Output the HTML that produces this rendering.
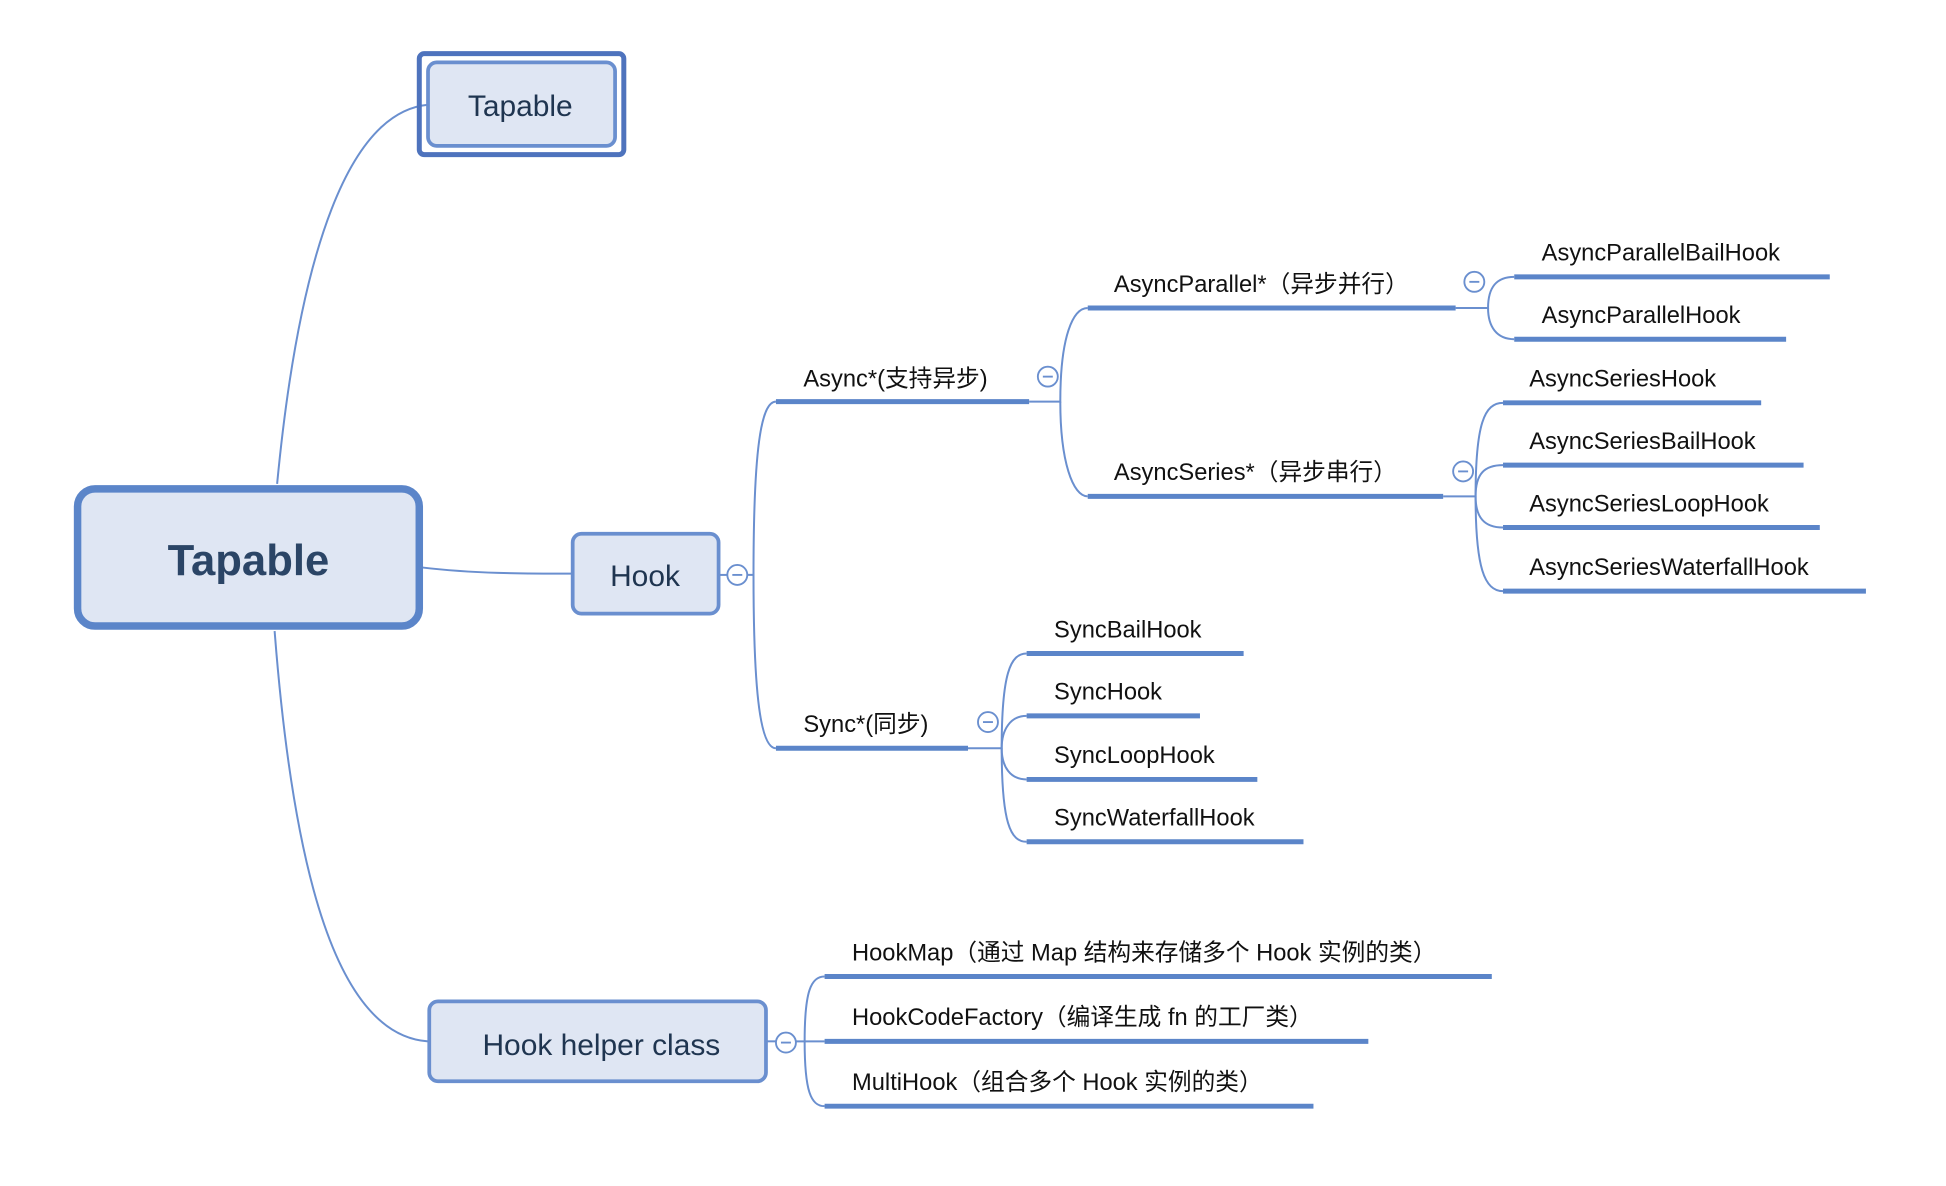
<!DOCTYPE html>
<html><head><meta charset="utf-8"><style>
html,body{margin:0;padding:0;background:#fff;}
svg{display:block;}
text{font-family:"Liberation Sans","Noto Sans CJK SC",sans-serif;fill:#111;}
</style></head><body>
<svg width="1946" height="1186" viewBox="0 0 1560 951" xmlns="http://www.w3.org/2000/svg">
<g fill="none" stroke="#6a8fcf" stroke-width="1.6">
  <path d="M222,388 C240,200 280,90 343,84"/>
  <path d="M220,506 C235,700 270,830 343,835"/>
  <path d="M338,455 C380,460 420,460 458,460"/>
  <path d="M577,461 L583,461"/>
  <path d="M599,461 L604,461 C604,360 610,322 622,322"/>
  <path d="M604,461 C604,560 610,600 622,600"/>
  <path d="M825,322 L850,322 C850,270 860,247 872,247"/>
  <path d="M850,322 C850,370 860,398 872,398"/>
  <path d="M1167,247 L1193,247 C1193,230 1200,222 1214,222"/>
  <path d="M1193,247 C1193,262 1200,272 1214,272"/>
  <path d="M1157,398 L1183,398 C1183,340 1190,323 1205,323"/>
  <path d="M1183,398 C1183,380 1190,373 1205,373"/>
  <path d="M1183,398 C1183,415 1190,423 1205,423"/>
  <path d="M1183,398 C1183,455 1190,474 1205,474"/>
  <path d="M776,600 L803,600 C803,540 810,524 823,524"/>
  <path d="M803,600 C803,585 810,574 823,574"/>
  <path d="M803,600 C803,615 810,625 823,625"/>
  <path d="M803,600 C803,660 810,675 823,675"/>
  <path d="M615,835 L622,835"/>
  <path d="M638,835 L645,835 C645,795 650,783 661,783"/>
  <path d="M645,835 L661,835"/>
  <path d="M645,835 C645,875 650,887 661,887"/>
</g>
<g fill="#fff" stroke="#6a8fcf" stroke-width="1.5">
  <circle cx="591" cy="461" r="8"/><circle cx="840" cy="302" r="8"/>
  <circle cx="1182" cy="226" r="8"/><circle cx="1173" cy="378" r="8"/>
  <circle cx="792" cy="579" r="8"/><circle cx="630" cy="836" r="8"/>
</g>
<g stroke="#6a8fcf" stroke-width="1.5">
  <line x1="587" y1="461" x2="595" y2="461"/><line x1="836" y1="302" x2="844" y2="302"/>
  <line x1="1178" y1="226" x2="1186" y2="226"/><line x1="1169" y1="378" x2="1177" y2="378"/>
  <line x1="788" y1="579" x2="796" y2="579"/><line x1="626" y1="836" x2="634" y2="836"/>
</g>
<g stroke="#5b85c9" stroke-width="4">
  <line x1="622" y1="322" x2="825" y2="322"/><line x1="622" y1="600" x2="776" y2="600"/>
  <line x1="872" y1="247" x2="1167" y2="247"/><line x1="872" y1="398" x2="1157" y2="398"/>
  <line x1="1214" y1="222" x2="1467" y2="222"/><line x1="1214" y1="272" x2="1432" y2="272"/>
  <line x1="1205" y1="323" x2="1412" y2="323"/><line x1="1205" y1="373" x2="1446" y2="373"/>
  <line x1="1205" y1="423" x2="1459" y2="423"/><line x1="1205" y1="474" x2="1496" y2="474"/>
  <line x1="823" y1="524" x2="997" y2="524"/><line x1="823" y1="574" x2="962" y2="574"/>
  <line x1="823" y1="625" x2="1008" y2="625"/><line x1="823" y1="675" x2="1045" y2="675"/>
  <line x1="661" y1="783" x2="1196" y2="783"/><line x1="661" y1="835" x2="1097" y2="835"/>
  <line x1="661" y1="887" x2="1053" y2="887"/>
</g>
<!-- boxes -->
<rect x="336" y="43" width="164" height="81" rx="4" fill="none" stroke="#4e73bd" stroke-width="4"/>
<rect x="343" y="50" width="150" height="67" rx="7" fill="#dfe6f3" stroke="#6a8fcf" stroke-width="3"/>
<rect x="62" y="392" width="274" height="110" rx="14" fill="#dfe6f3" stroke="#5b85c9" stroke-width="6"/>
<rect x="459" y="428" width="117" height="64" rx="7" fill="#dfe6f3" stroke="#6a8fcf" stroke-width="3"/>
<rect x="344" y="803" width="270" height="64" rx="7" fill="#dfe6f3" stroke="#6a8fcf" stroke-width="3"/>
<text x="417" y="93" font-size="24" text-anchor="middle" style="fill:#1f3550">Tapable</text>
<text x="199" y="461" font-size="35" font-weight="bold" text-anchor="middle" style="fill:#2b4566">Tapable</text>
<text x="517" y="470" font-size="24" text-anchor="middle" style="fill:#1f3550">Hook</text>
<text x="482" y="846" font-size="24" text-anchor="middle" style="fill:#1f3550">Hook helper class</text>
<g font-size="19">
  <text x="644" y="310">Async*(支持异步)</text>
  <text x="644" y="587">Sync*(同步)</text>
  <text x="893" y="234">AsyncParallel*（异步并行）</text>
  <text x="893" y="385">AsyncSeries*（异步串行）</text>
  <text x="1236" y="209">AsyncParallelBailHook</text>
  <text x="1236" y="259">AsyncParallelHook</text>
  <text x="1226" y="310">AsyncSeriesHook</text>
  <text x="1226" y="360">AsyncSeriesBailHook</text>
  <text x="1226" y="410">AsyncSeriesLoopHook</text>
  <text x="1226" y="461">AsyncSeriesWaterfallHook</text>
  <text x="845" y="511">SyncBailHook</text>
  <text x="845" y="561">SyncHook</text>
  <text x="845" y="612">SyncLoopHook</text>
  <text x="845" y="662">SyncWaterfallHook</text>
  <text x="683" y="770">HookMap（通过 Map 结构来存储多个 Hook 实例的类）</text>
  <text x="683" y="822">HookCodeFactory（编译生成 fn 的工厂类）</text>
  <text x="683" y="874">MultiHook（组合多个 Hook 实例的类）</text>
</g>
</svg>
</body></html>
